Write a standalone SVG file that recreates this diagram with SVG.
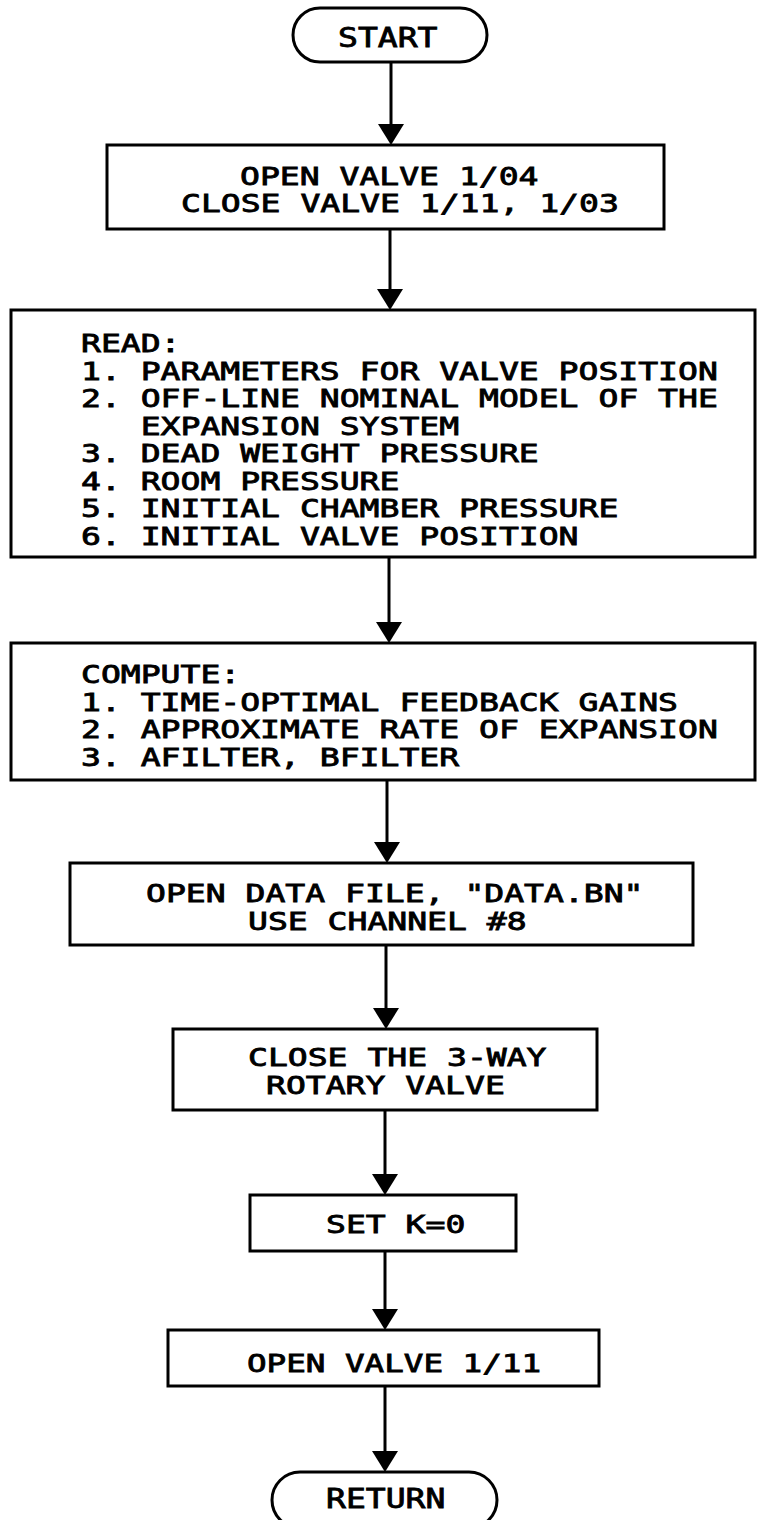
<svg xmlns="http://www.w3.org/2000/svg" width="763" height="1520" viewBox="0 0 763 1520">
  <style>
    .box { fill: #ffffff; stroke: #000000; stroke-width: 3; }
    .term { fill: #ffffff; stroke: #000000; stroke-width: 3; }
    text { font-family: "DejaVu Sans Mono", "Liberation Mono", monospace; font-weight: normal; font-size: 24px; fill: #000000; stroke: #000000; stroke-width: 0.8; }
    .big { font-size: 26px; }
  </style>
  <rect width="763" height="1520" fill="#ffffff"/>

  <!-- connectors: straight drops with filled arrowheads -->
  <g id="connectors" fill="#000000" stroke="#000000" stroke-width="3">
    <line x1="391" y1="62" x2="391" y2="128"/>
    <path d="M378,124 L404,124 L391,145 Z" stroke="none"/>
    <line x1="390" y1="229" x2="390" y2="293"/>
    <path d="M377,289 L403,289 L390,310 Z" stroke="none"/>
    <line x1="389" y1="557" x2="389" y2="626"/>
    <path d="M376,622 L402,622 L389,643 Z" stroke="none"/>
    <line x1="387" y1="780" x2="387" y2="846"/>
    <path d="M374,842 L400,842 L387,863 Z" stroke="none"/>
    <line x1="386" y1="945" x2="386" y2="1012"/>
    <path d="M373,1008 L399,1008 L386,1029 Z" stroke="none"/>
    <line x1="385" y1="1110" x2="385" y2="1178"/>
    <path d="M372,1174 L398,1174 L385,1195 Z" stroke="none"/>
    <line x1="385" y1="1251" x2="385" y2="1313"/>
    <path d="M372,1309 L398,1309 L385,1330 Z" stroke="none"/>
    <line x1="385" y1="1386" x2="385" y2="1455"/>
    <path d="M372,1451 L398,1451 L385,1472 Z" stroke="none"/>
  </g>

  <g id="start">
    <rect class="term" x="293" y="8" width="194" height="54" rx="27" ry="27"/>
    <text class="big" x="338" y="47" textLength="99.5" lengthAdjust="spacingAndGlyphs">START</text>
  </g>

  <g id="valves-init">
    <rect class="box" x="107" y="145" width="557" height="84"/>
    <text x="240" y="185" textLength="298.5" lengthAdjust="spacingAndGlyphs">OPEN VALVE 1/04</text>
    <text x="181" y="212" textLength="437.8" lengthAdjust="spacingAndGlyphs">CLOSE VALVE 1/11, 1/03</text>
  </g>

  <g id="read">
    <rect class="box" x="11" y="310" width="744" height="247"/>
    <text x="81" y="352" textLength="99.5" lengthAdjust="spacingAndGlyphs">READ:</text>
    <text x="81" y="379.5" textLength="636.8" lengthAdjust="spacingAndGlyphs">1. PARAMETERS FOR VALVE POSITION</text>
    <text x="81" y="407" textLength="636.8" lengthAdjust="spacingAndGlyphs">2. OFF-LINE NOMINAL MODEL OF THE</text>
    <text x="140.7" y="434.5" textLength="318.4" lengthAdjust="spacingAndGlyphs">EXPANSION SYSTEM</text>
    <text x="81" y="462" textLength="457.7" lengthAdjust="spacingAndGlyphs">3. DEAD WEIGHT PRESSURE</text>
    <text x="81" y="489.5" textLength="318.4" lengthAdjust="spacingAndGlyphs">4. ROOM PRESSURE</text>
    <text x="81" y="517" textLength="537.3" lengthAdjust="spacingAndGlyphs">5. INITIAL CHAMBER PRESSURE</text>
    <text x="81" y="544.5" textLength="497.5" lengthAdjust="spacingAndGlyphs">6. INITIAL VALVE POSITION</text>
  </g>

  <g id="compute">
    <rect class="box" x="11" y="643" width="744" height="137"/>
    <text x="81" y="683" textLength="159.2" lengthAdjust="spacingAndGlyphs">COMPUTE:</text>
    <text x="81" y="710.5" textLength="597" lengthAdjust="spacingAndGlyphs">1. TIME-OPTIMAL FEEDBACK GAINS</text>
    <text x="81" y="738" textLength="636.8" lengthAdjust="spacingAndGlyphs">2. APPROXIMATE RATE OF EXPANSION</text>
    <text x="81" y="765.5" textLength="378.1" lengthAdjust="spacingAndGlyphs">3. AFILTER, BFILTER</text>
  </g>

  <g id="data-file">
    <rect class="box" x="70" y="863" width="623" height="82"/>
    <text x="146" y="902" textLength="497.5" lengthAdjust="spacingAndGlyphs">OPEN DATA FILE, "DATA.BN"</text>
    <text x="248" y="930" textLength="278.6" lengthAdjust="spacingAndGlyphs">USE CHANNEL #8</text>
  </g>

  <g id="rotary-valve">
    <rect class="box" x="173" y="1029" width="424" height="81"/>
    <text x="248" y="1066" textLength="298.5" lengthAdjust="spacingAndGlyphs">CLOSE THE 3-WAY</text>
    <text x="266" y="1094" textLength="238.8" lengthAdjust="spacingAndGlyphs">ROTARY VALVE</text>
  </g>

  <g id="set-k">
    <rect class="box" x="250" y="1195" width="266" height="56"/>
    <text x="326" y="1233" textLength="139.3" lengthAdjust="spacingAndGlyphs">SET K=0</text>
  </g>

  <g id="valve-open">
    <rect class="box" x="168" y="1330" width="431" height="56"/>
    <text x="247" y="1372" textLength="294" lengthAdjust="spacingAndGlyphs">OPEN VALVE 1/11</text>
  </g>

  <g id="return">
    <rect class="term" x="272" y="1472" width="225" height="56" rx="28" ry="28"/>
    <text class="big" x="326" y="1508" textLength="119.4" lengthAdjust="spacingAndGlyphs">RETURN</text>
  </g>
</svg>
